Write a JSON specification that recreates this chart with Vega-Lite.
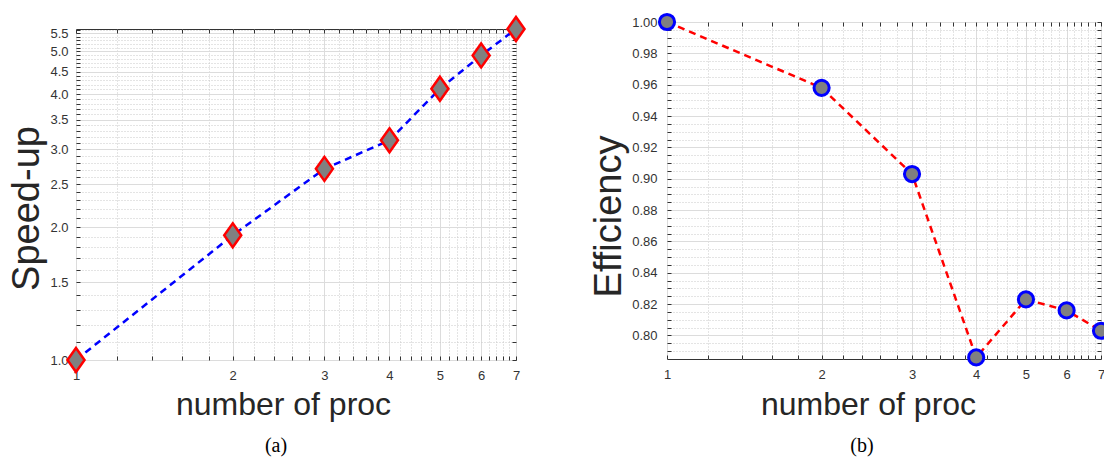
{
  "$schema": "https://vega.github.io/schema/vega-lite/v6.json",
  "background": "white",
  "padding": {"left": 7, "top": 4, "right": 0, "bottom": 0},
  "data": {"values": [
    {"n": 1, "speedup": 1.0, "efficiency": 1.0},
    {"n": 2, "speedup": 1.916, "efficiency": 0.958},
    {"n": 3, "speedup": 2.71, "efficiency": 0.903},
    {"n": 4, "speedup": 3.145, "efficiency": 0.786},
    {"n": 5, "speedup": 4.115, "efficiency": 0.823},
    {"n": 6, "speedup": 4.897, "efficiency": 0.816},
    {"n": 7, "speedup": 5.62, "efficiency": 0.803}
  ]},
  "columns": 2,
  "align": "none",
  "spacing": 58,
  "concat": [
    {
      "vconcat": [
        {"width": 440, "height": 7, "data": {"values": []}, "mark": "point", "view": {"stroke": null}},
        {
          "width": 440,
          "height": 331,
          "title": {"text": "(a)", "orient": "bottom", "anchor": "middle", "frame": "group", "dx": -20, "offset": 16, "baseline": "top", "font": "Liberation Serif", "fontSize": 20, "fontWeight": "normal", "color": "#000000"},
          "layer": [
            {
              "mark": {"type": "line", "color": "#0000ff", "strokeWidth": 2.5, "strokeDash": [7, 5], "clip": false},
              "encoding": {
                "x": {"field": "n", "type": "quantitative", "scale": {"type": "log", "domain": [1, 7], "nice": false},
                  "axis": {"orient": "bottom", "values": [1,1.2,1.4,1.6,1.8,2,2.2,2.4,2.6,2.8,3,3.2,3.4,3.6,3.8,4,4.2,4.4,4.6,4.8,5,5.2,5.4,5.6,5.8,6,6.2,6.4,6.6,6.8,7],
                    "title": "number of proc", "titleFontSize": 32, "titleX": 207, "titleY": 54, "titleBaseline": "alphabetic",
                    "labelExpr": "datum.value % 1 == 0 ? format(datum.value, 'd') : ''", "labelPadding": 13, "labelBaseline": "top", "tickSize": -4,
                    "grid": true, "gridWidth": 1,
                    "gridColor": {"condition": {"test": "datum.value % 1 == 0", "value": "#dcdcdc"}, "value": "#c8c8c8"},
                    "gridDash": {"condition": {"test": "datum.value % 1 == 0", "value": []}, "value": [1, 2]}}},
                "y": {"field": "speedup", "type": "quantitative", "scale": {"type": "log", "domain": [1, 5.62], "nice": false},
                  "axis": {"orient": "left", "values": [1,1.1,1.2,1.3,1.4,1.5,1.6,1.7,1.8,1.9,2,2.1,2.2,2.3,2.4,2.5,2.6,2.7,2.8,2.9,3,3.1,3.2,3.3,3.4,3.5,3.6,3.7,3.8,3.9,4,4.1,4.2,4.3,4.4,4.5,4.6,4.7,4.8,4.9,5,5.1,5.2,5.3,5.4,5.5,5.6],
                    "title": "Speed-up", "titleFontSize": 38, "titleX": -49, "titleY": 179, "titleBaseline": "middle", "titleAngle": -90,
                    "labelExpr": "abs(datum.value*2 - round(datum.value*2)) < 1e-6 ? format(datum.value, '.1f') : ''", "labelPadding": 12, "tickSize": -4,
                    "grid": true, "gridWidth": 1,
                    "gridColor": {"condition": {"test": "abs(datum.value*2 - round(datum.value*2)) < 1e-6", "value": "#dcdcdc"}, "value": "#c8c8c8"},
                    "gridDash": {"condition": {"test": "abs(datum.value*2 - round(datum.value*2)) < 1e-6", "value": []}, "value": [1, 2]}}}
              }
            },
            {
              "mark": {"type": "point", "shape": "M0,-1L0.71,0L0,1L-0.71,0Z", "filled": true, "fill": "#808080", "stroke": "#ff0000", "strokeWidth": 2.5, "size": 576, "opacity": 1, "fillOpacity": 1, "strokeOpacity": 1, "clip": false},
              "encoding": {
                "x": {"field": "n", "type": "quantitative", "scale": {"type": "log", "domain": [1, 7], "nice": false},
                  "axis": {"orient": "top", "values": [1,1.2,1.4,1.6,1.8,2,2.2,2.4,2.6,2.8,3,3.2,3.4,3.6,3.8,4,4.2,4.4,4.6,4.8,5,5.2,5.4,5.6,5.8,6,6.2,6.4,6.6,6.8,7], "title": null, "labels": false, "grid": false, "tickSize": -4}},
                "y": {"field": "speedup", "type": "quantitative", "scale": {"type": "log", "domain": [1, 5.62], "nice": false},
                  "axis": {"orient": "right", "values": [1,1.1,1.2,1.3,1.4,1.5,1.6,1.7,1.8,1.9,2,2.1,2.2,2.3,2.4,2.5,2.6,2.7,2.8,2.9,3,3.1,3.2,3.3,3.4,3.5,3.6,3.7,3.8,3.9,4,4.1,4.2,4.3,4.4,4.5,4.6,4.7,4.8,4.9,5,5.1,5.2,5.3,5.4,5.5,5.6], "title": null, "labels": false, "grid": false, "tickSize": -4}}
              }
            }
          ],
          "resolve": {"axis": {"x": "independent", "y": "independent"}}
        }
      ],
      "spacing": 0,
      "bounds": "flush"
    },
    {
      "width": 434,
      "height": 337,
      "title": {"text": "(b)", "orient": "bottom", "anchor": "middle", "frame": "group", "dx": -22, "offset": 16, "baseline": "top", "font": "Liberation Serif", "fontSize": 20, "fontWeight": "normal", "color": "#000000"},
      "layer": [
        {
          "mark": {"type": "line", "color": "#ff0000", "strokeWidth": 2.5, "strokeDash": [7, 5], "clip": false},
          "encoding": {
            "x": {"field": "n", "type": "quantitative", "scale": {"type": "log", "domain": [1, 7], "nice": false},
              "axis": {"orient": "bottom", "values": [1,1.2,1.4,1.6,1.8,2,2.2,2.4,2.6,2.8,3,3.2,3.4,3.6,3.8,4,4.2,4.4,4.6,4.8,5,5.2,5.4,5.6,5.8,6,6.2,6.4,6.6,6.8,7],
                "title": "number of proc", "titleFontSize": 32, "titleX": 201, "titleY": 55, "titleBaseline": "alphabetic",
                "labelExpr": "datum.value % 1 == 0 ? format(datum.value, 'd') : ''", "labelPadding": 13, "labelBaseline": "top", "tickSize": -4,
                "grid": true, "gridWidth": 1,
                "gridColor": {"condition": {"test": "datum.value % 1 == 0", "value": "#dcdcdc"}, "value": "#c8c8c8"},
                "gridDash": {"condition": {"test": "datum.value % 1 == 0", "value": []}, "value": [1, 2]}}},
            "y": {"field": "efficiency", "type": "quantitative", "scale": {"type": "linear", "domain": [0.785, 1.0], "nice": false, "zero": false},
              "axis": {"orient": "left", "values": [0.79,0.795,0.8,0.805,0.81,0.815,0.82,0.825,0.83,0.835,0.84,0.845,0.85,0.855,0.86,0.865,0.87,0.875,0.88,0.885,0.89,0.895,0.9,0.905,0.91,0.915,0.92,0.925,0.93,0.935,0.94,0.945,0.95,0.955,0.96,0.965,0.97,0.975,0.98,0.985,0.99,0.995,1],
                "title": "Efficiency", "titleFontSize": 38, "titleX": -58, "titleY": 194, "titleBaseline": "middle", "titleAngle": -90,
                "labelExpr": "abs(datum.value*50 - round(datum.value*50)) < 1e-6 ? format(datum.value, '.2f') : ''", "labelPadding": 14, "tickSize": -4,
                "grid": true, "gridWidth": 1,
                "gridColor": {"condition": {"test": "abs(datum.value*50 - round(datum.value*50)) < 1e-6", "value": "#dcdcdc"}, "value": "#c8c8c8"},
                "gridDash": {"condition": {"test": "abs(datum.value*50 - round(datum.value*50)) < 1e-6", "value": []}, "value": [1, 2]}}}
          }
        },
        {
          "mark": {"type": "point", "shape": "circle", "filled": true, "fill": "#808080", "stroke": "#0000ff", "strokeWidth": 3, "size": 230, "opacity": 1, "fillOpacity": 1, "strokeOpacity": 1, "clip": false},
          "encoding": {
            "x": {"field": "n", "type": "quantitative", "scale": {"type": "log", "domain": [1, 7], "nice": false},
              "axis": {"orient": "top", "values": [1,1.2,1.4,1.6,1.8,2,2.2,2.4,2.6,2.8,3,3.2,3.4,3.6,3.8,4,4.2,4.4,4.6,4.8,5,5.2,5.4,5.6,5.8,6,6.2,6.4,6.6,6.8,7], "title": null, "labels": true, "labelExpr": "datum.value == 3 ? ' ' : ''", "labelFontSize": 10, "labelPadding": 11, "labelBaseline": "bottom", "grid": false, "tickSize": -4}},
            "y": {"field": "efficiency", "type": "quantitative", "scale": {"type": "linear", "domain": [0.785, 1.0], "nice": false, "zero": false},
              "axis": {"orient": "right", "values": [0.79,0.795,0.8,0.805,0.81,0.815,0.82,0.825,0.83,0.835,0.84,0.845,0.85,0.855,0.86,0.865,0.87,0.875,0.88,0.885,0.89,0.895,0.9,0.905,0.91,0.915,0.92,0.925,0.93,0.935,0.94,0.945,0.95,0.955,0.96,0.965,0.97,0.975,0.98,0.985,0.99,0.995,1], "title": null, "labels": false, "grid": false, "tickSize": -4}}
          }
        }
      ],
      "resolve": {"axis": {"x": "independent", "y": "independent"}}
    }
  ],
  "config": {
    "view": {"stroke": "#333333", "strokeWidth": 1},
    "axis": {"labelFont": "Liberation Sans", "labelFontSize": 13, "labelColor": "#333333", "titleFont": "Liberation Sans", "titleFontWeight": "normal", "titleColor": "#262626", "domain": false, "tickColor": "#333333", "tickWidth": 1, "labelFlush": false, "labelOverlap": false, "labelBound": false}
  }
}
